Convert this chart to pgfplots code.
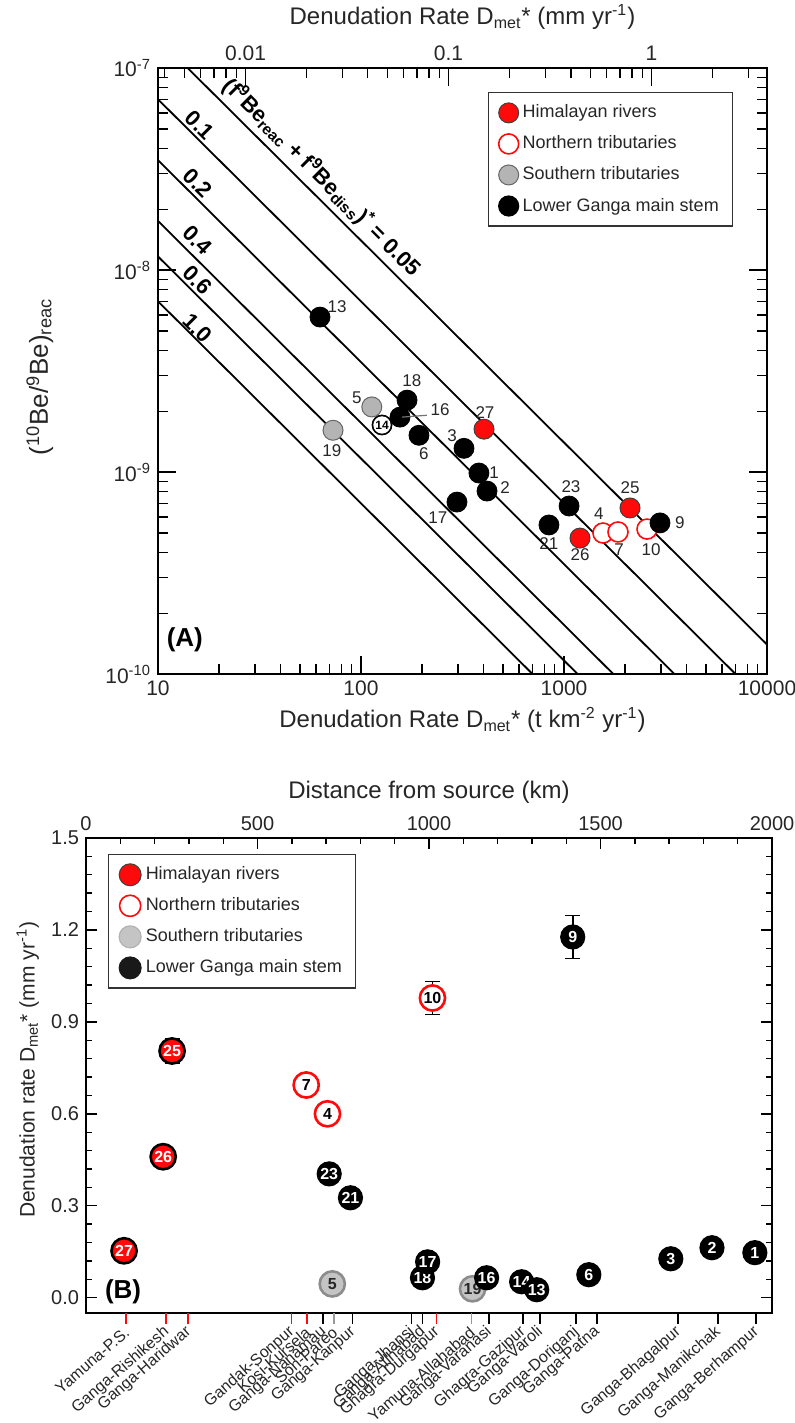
\documentclass[border=0pt]{standalone}
\usepackage{fontspec}
\setmainfont{Liberation Sans}
\usepackage{pgfplots}
\pgfplotsset{compat=1.18}
\definecolor{hred}{HTML}{FF0A0A}
\definecolor{sgrayA}{HTML}{B4B4B4}
\definecolor{sgrayB}{HTML}{C4C4C4}
\definecolor{txt}{HTML}{262626}
\newcommand{\sz}[1]{\fontsize{#1}{#1}\selectfont}

\begin{document}
\begin{tikzpicture}
\path[use as bounding box] (0pt,0pt) rectangle (397pt,-711.5pt);

% ---------- panel A ----------
\begin{axis}[
  at={(79pt,-34pt)}, anchor=north west, scale only axis,
  width=304.5pt, height=303pt,
  xmode=log, ymode=log,
  xmin=10, xmax=10000, ymin=1e-10, ymax=1e-7,
  xtick={10,100,1000,10000}, xticklabels={10,100,1000,10000},
  minor xtick={20,30,40,50,60,70,80,90,200,300,400,500,600,700,800,900,2000,3000,4000,5000,6000,7000,8000,9000},
  ytick={1e-10,1e-9,1e-8,1e-7},
  yticklabels={10\textsuperscript{-10},10\textsuperscript{-9},10\textsuperscript{-8},10\textsuperscript{-7}},
  minor ytick={2e-10,3e-10,4e-10,5e-10,6e-10,7e-10,8e-10,9e-10,2e-9,3e-9,4e-9,5e-9,6e-9,7e-9,8e-9,9e-9,2e-8,3e-8,4e-8,5e-8,6e-8,7e-8,8e-8,9e-8},
  xtick pos=left, xticklabel pos=left, ytick pos=both, yticklabel pos=left,
  tick align=inside, major tick length=9pt, minor tick length=5pt,
  every tick/.style={black, line width=0.7pt},
  axis line style={line width=1pt},
  tick label style={font=\sz{10.5}, text=txt},
  xlabel={Denudation Rate D\textsubscript{met}* (t km\textsuperscript{-2} yr\textsuperscript{-1})},
  xlabel style={at={(axis description cs:0.5,-0.076)}, anchor=center, font=\sz{12}, text=txt},
  ylabel={(\textsuperscript{10}Be/\textsuperscript{9}Be)\textsubscript{reac}},
  ylabel style={at={(axis description cs:-0.194,0.49)}, anchor=center, font=\sz{13}, text=txt},
  clip mode=individual,
  legend style={at={(0.542,0.960)}, anchor=north west, draw=black!80, line width=0.6pt,
    font=\sz{9}, text=txt, row sep=3.5pt, inner xsep=5pt, inner ysep=4pt},
  legend cell align=left,
]
% (f9Be_reac + f9Be_diss)* lines
\addplot[black, line width=0.9pt, forget plot] coordinates {(10,1.4e-7) (10000,1.4e-10)};
\addplot[black, line width=0.9pt, forget plot] coordinates {(10,7e-8) (10000,7e-11)};
\addplot[black, line width=0.9pt, forget plot] coordinates {(10,3.5e-8) (10000,3.5e-11)};
\addplot[black, line width=0.9pt, forget plot] coordinates {(10,1.75e-8) (10000,1.75e-11)};
\addplot[black, line width=0.9pt, forget plot] coordinates {(10,1.1667e-8) (10000,1.1667e-11)};
\addplot[black, line width=0.9pt, forget plot] coordinates {(10,7e-9) (10000,7e-12)};

\addplot[only marks, mark=*, mark size=5pt, mark options={fill=hred, draw=black!75, line width=0.5pt}]
  coordinates {(403.6,1.63e-9) (1199,4.71e-10) (2114,6.64e-10)};
\addlegendentry{Himalayan rivers}
\addplot[only marks, mark=*, mark size=5pt, mark options={fill=white, draw=hred, line width=0.8pt}]
  coordinates {(1556,4.99e-10) (1845,5.05e-10) (2564,5.22e-10)};
\addlegendentry{Northern tributaries}
\addplot[only marks, mark=*, mark size=5pt, mark options={fill=sgrayA, draw=black!60, line width=0.5pt}]
  coordinates {(113,2.10e-9) (72.8,1.61e-9)};
\addlegendentry{Southern tributaries}
\addplot[only marks, mark=*, mark size=5pt, mark options={fill=black, draw=black}]
  coordinates {(62.8,5.85e-9) (168.6,2.27e-9) (126.9,1.71e-9) (155.6,1.87e-9) (193,1.52e-9)
               (321.6,1.31e-9) (381,9.89e-10) (417.6,8.05e-10) (297,7.1e-10) (1059,6.79e-10)
               (843,5.47e-10) (2971,5.6e-10)};
\addlegendentry{Lower Ganga main stem}

% line labels
\node[rotate=-45, font=\sz{11}\bfseries] at (axis cs:16.1,5.22e-8) {0.1};
\node[rotate=-45, font=\sz{11}\bfseries] at (axis cs:15.7,2.7e-8) {0.2};
\node[rotate=-45, font=\sz{11}\bfseries] at (axis cs:15.6,1.41e-8) {0.4};
\node[rotate=-45, font=\sz{11}\bfseries] at (axis cs:15.6,8.9e-9) {0.6};
\node[rotate=-45, font=\sz{11}\bfseries] at (axis cs:15.6,5.16e-9) {1.0};
\node[rotate=-45, font=\sz{11}\bfseries] at (axis cs:64.3,2.88e-8)
  {(f\textsuperscript{9}Be\textsubscript{reac} + f\textsuperscript{9}Be\textsubscript{diss})\textsuperscript{*} = 0.05};

% sample labels
\begin{scope}[every node/.style={font=\sz{8.5}, text=txt, inner sep=0pt}]
\node at (axis cs:76.2,6.56e-9) {13};
\node at (axis cs:178,2.82e-9) {18};
\node at (axis cs:95.5,2.32e-9) {5};
\node at (axis cs:245,2.03e-9) {16};
\node at (axis cs:204,1.24e-9) {6};
\node at (axis cs:281,1.52e-9) {3};
\node at (axis cs:408,1.98e-9) {27};
\node at (axis cs:452,9.89e-10) {1};
\node at (axis cs:512,8.33e-10) {2};
\node at (axis cs:239,5.92e-10) {17};
\node at (axis cs:71.9,1.28e-9) {19};
\node at (axis cs:1082,8.43e-10) {23};
\node at (axis cs:843,4.4e-10) {21};
\node at (axis cs:1199,3.88e-10) {26};
\node at (axis cs:1486,6.19e-10) {4};
\node at (axis cs:1866,4.11e-10) {7};
\node at (axis cs:2114,8.33e-10) {25};
\node at (axis cs:2685,4.11e-10) {10};
\node at (axis cs:3725,5.6e-10) {9};
\end{scope}
\node[circle, fill=white, inner sep=0.3pt, font=\sz{6}\bfseries] at (axis cs:126.9,1.71e-9) {14};
\draw[black!55, line width=0.6pt] (axis cs:159,1.87e-9) -- (axis cs:211,1.91e-9);
\node[font=\sz{13}\bfseries] at (rel axis cs:0.044,0.056) {(A)};
\end{axis}

% top axis of panel A (mm/yr)
\begin{axis}[
  at={(79pt,-34pt)}, anchor=north west, scale only axis,
  width=304.5pt, height=303pt,
  xmode=log, ymode=log,
  xmin=0.0037037, xmax=3.7037, ymin=1e-10, ymax=1e-7,
  hide y axis,
  xtick={0.01,0.1,1}, xticklabels={0.01,0.1,1},
  minor xtick={0.004,0.005,0.006,0.007,0.008,0.009,0.02,0.03,0.04,0.05,0.06,0.07,0.08,0.09,0.2,0.3,0.4,0.5,0.6,0.7,0.8,0.9,2,3},
  xtick pos=right, xticklabel pos=right,
  tick align=inside, major tick length=9pt, minor tick length=5pt,
  every tick/.style={black, line width=0.7pt},
  axis line style={line width=1pt},
  tick label style={font=\sz{10.5}, text=txt},
  xlabel={Denudation Rate D\textsubscript{met}* (mm yr\textsuperscript{-1})},
  xlabel style={at={(axis description cs:0.5,1.084)}, anchor=center, font=\sz{12}, text=txt},
]
\end{axis}

% ---------- panel B ----------
\begin{axis}[
  at={(43pt,-419pt)}, anchor=north west, scale only axis,
  width=343pt, height=237.5pt,
  xmin=0, xmax=2000, ymin=-0.05, ymax=1.5,
  xtick={0,500,1000,1500,2000}, xticklabels={0,500,1000,1500,2000}, minor x tick num=4,
  ytick={0,0.3,0.6,0.9,1.2,1.5}, yticklabels={0.0,0.3,0.6,0.9,1.2,1.5}, minor y tick num=4,
  xtick pos=right, xticklabel pos=right, ytick pos=both, yticklabel pos=left,
  tick align=inside, major tick length=5.5pt, minor tick length=3pt,
  every tick/.style={black, line width=0.7pt},
  axis line style={line width=1pt},
  tick label style={font=\sz{10}, text=txt},
  xlabel={Distance from source (km)},
  xlabel style={at={(axis description cs:0.5,1.097)}, anchor=center, font=\sz{12}, text=txt},
  ylabel={Denudation rate D\textsubscript{met}* (mm yr\textsuperscript{-1})},
  ylabel style={at={(axis description cs:-0.085,0.512)}, anchor=center, font=\sz{10.5}, text=txt},
  clip=false,
  legend style={at={(0.032,0.966)}, anchor=north west, draw=black!80, line width=0.6pt,
    font=\sz{9}, text=txt, row sep=3.5pt, inner xsep=5pt, inner ysep=4pt},
  legend cell align=left,
  nodes near coords, point meta=explicit symbolic, nodes near coords align={center},
]
% error bars
\addplot[only marks, mark=none, forget plot, nodes near coords=,
  error bars/.cd, y dir=both, y explicit,
  error bar style={black, line width=0.8pt},
  error mark options={rotate=90, mark size=3.75pt, line width=0.8pt, black}]
  table[x=x, y=y, y error=e] {
x    y     e
251  0.805 0.040
642  0.694 0.020
1010 0.978 0.054
1419 1.177 0.070
};

\addplot[only marks, mark=*, mark size=6.3pt, mark options={fill=hred, draw=black, line width=1.3pt},
  every node near coord/.append style={font=\sz{8}\bfseries, text=white, inner sep=0pt, anchor=center},
  legend image code/.code={\draw[fill=hred, draw=black!75, line width=0.5pt] (0.3cm,0) circle (5.5pt);}]
  table[meta=lab] {
x    y     lab
111  0.153 27
225  0.460 26
251  0.805 25
};
\addlegendentry{Himalayan rivers}

\addplot[only marks, mark=*, mark size=6.3pt, mark options={fill=white, draw=hred, line width=1.3pt},
  every node near coord/.append style={font=\sz{8}\bfseries, text=black, inner sep=0pt, anchor=center},
  legend image code/.code={\draw[fill=white, draw=hred, line width=0.8pt] (0.3cm,0) circle (5.3pt);}]
  table[meta=lab] {
x    y     lab
642  0.694 7
704  0.600 4
1010 0.978 10
};
\addlegendentry{Northern tributaries}

\addplot[only marks, mark=*, mark size=6.3pt, mark options={fill=sgrayB, draw=black!45, line width=1.3pt},
  every node near coord/.append style={font=\sz{8}\bfseries, text=black!85, inner sep=0pt, anchor=center},
  legend image code/.code={\draw[fill=sgrayB, draw=black!30, line width=0.6pt] (0.3cm,0) circle (5.5pt);}]
  table[meta=lab] {
x    y     lab
718  0.045 5
1127 0.029 19
};
\addlegendentry{Southern tributaries}

\addplot[only marks, mark=*, mark size=6pt, mark options={fill=black, draw=black, line width=0.6pt},
  every node near coord/.append style={font=\sz{8}\bfseries, text=white, inner sep=0pt, anchor=center},
  legend image code/.code={\draw[fill=black!90, draw=black!90, line width=0.5pt] (0.3cm,0) circle (5.5pt);}]
  table[meta=lab] {
x    y     lab
709  0.404 23
771  0.326 21
1419 1.177 9
981  0.065 18
996  0.117 17
1168 0.065 16
1270 0.052 14
1314 0.026 13
1466 0.075 6
1705 0.127 3
1825 0.163 2
1950 0.147 1
};
\addlegendentry{Lower Ganga main stem}

\node[font=\sz{13}\bfseries] at (rel axis cs:0.054,0.044) {(B)};
\end{axis}

% bottom station ticks of panel B (red, grey, black)
\begin{axis}[
  at={(43pt,-419pt)}, anchor=north west, scale only axis,
  width=343pt, height=237.5pt,
  xmin=0, xmax=2000, ymin=-0.05, ymax=1.5,
  hide y axis, axis line style={draw=none},
  xtick pos=left, xticklabel pos=left, tick align=outside, major tick length=5.5pt,
  major tick style={hred, line width=0.9pt},
  xtick={117,234,298,599,645,1022},
  xticklabels={Yamuna-P.S.,Ganga-Rishikesh,Ganga-Haridwar,Gandak-Sonpur,Kosi-Kursela,Ghagra-Durgapur},
  xticklabel style={rotate=41, anchor=east, font=\sz{8}, text=txt, inner sep=1.5pt, yshift=-2.5pt},
]
\end{axis}
\begin{axis}[
  at={(43pt,-419pt)}, anchor=north west, scale only axis,
  width=343pt, height=237.5pt,
  xmin=0, xmax=2000, ymin=-0.05, ymax=1.5,
  hide y axis, axis line style={draw=none},
  xtick pos=left, xticklabel pos=left, tick align=outside, major tick length=5.5pt,
  major tick style={black!40, line width=0.9pt},
  xtick={724,1124},
  xticklabels={Son-Pareo,Yamuna-Allahabad},
  xticklabel style={rotate=41, anchor=east, font=\sz{8}, text=txt, inner sep=1.5pt, yshift=-2.5pt},
]
\end{axis}
\begin{axis}[
  at={(43pt,-419pt)}, anchor=north west, scale only axis,
  width=343pt, height=237.5pt,
  xmin=0, xmax=2000, ymin=-0.05, ymax=1.5,
  hide y axis, axis line style={draw=none},
  xtick pos=left, xticklabel pos=left, tick align=outside, major tick length=5.5pt,
  major tick style={black, line width=0.9pt},
  xtick={692,777,949,981,1174,1273,1323,1428,1489,1726,1842,1953},
  xticklabels={Ganga-Nanamau,Ganga-Kanpur,Ganga-Jhansi,Ganga-Allhabad,Ganga-Varanasi,Ghagra-Gazipur,Ganga-Varoli,Ganga-Doriganj,Ganga-Patna,Ganga-Bhagalpur,Ganga-Manikchak,Ganga-Berhampur},
  xticklabel style={rotate=41, anchor=east, font=\sz{8}, text=txt, inner sep=1.5pt, yshift=-2.5pt},
]
\end{axis}
\end{tikzpicture}
\end{document}
